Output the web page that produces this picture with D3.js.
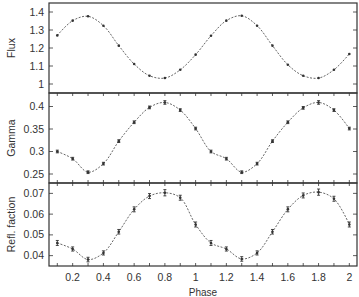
<!DOCTYPE html>
<html>
<head>
<meta charset="utf-8">
<script src="https://cdn.jsdelivr.net/npm/d3@7"></script>
<style>
  body { margin: 0; background: #fff; }
  text { font-family: "Liberation Sans", Arial, sans-serif; fill: #333; }
  .frame { fill: none; stroke: #333; stroke-width: 1.2; }
  .fit { fill: none; stroke: #555; stroke-width: 0.9; stroke-dasharray: 2,1.5; }
  .err { stroke: #333; stroke-width: 0.9; }
  .tick { stroke: #333; stroke-width: 0.8; }
</style>
</head>
<body>
<svg width="359" height="297"></svg>
<script>
const phase = [0.1, 0.2, 0.3, 0.4, 0.5, 0.6, 0.7, 0.8, 0.9, 1.0,
               1.1, 1.2, 1.3, 1.4, 1.5, 1.6, 1.7, 1.8, 1.9, 2.0]

const flux = [1.270, 1.352, 1.376, 1.324, 1.213, 1.111, 1.046, 1.033, 1.079, 1.163,
              1.268, 1.352, 1.379, 1.324, 1.213, 1.107, 1.046, 1.033, 1.079, 1.167]
const gamma = [0.300, 0.284, 0.254, 0.273, 0.323, 0.365, 0.398, 0.409, 0.392, 0.351,
               0.300, 0.284, 0.254, 0.273, 0.323, 0.365, 0.397, 0.409, 0.392, 0.351]
const gammaErr = [0.003, 0.003, 0.003, 0.003, 0.003, 0.003, 0.003, 0.004, 0.003, 0.003,
                  0.003, 0.003, 0.003, 0.003, 0.003, 0.003, 0.003, 0.004, 0.003, 0.003]
const refl = [0.0461, 0.0432, 0.0381, 0.0413, 0.0515, 0.0623, 0.0687, 0.0703, 0.0679, 0.0550,
              0.0461, 0.0432, 0.0384, 0.0413, 0.0515, 0.0623, 0.0690, 0.0706, 0.0674, 0.0550]
const reflErr = [0.0012, 0.0010, 0.0011, 0.0010, 0.0011, 0.0012, 0.0012, 0.0015, 0.0012, 0.0012,
                 0.0012, 0.0010, 0.0011, 0.0010, 0.0011, 0.0012, 0.0012, 0.0015, 0.0012, 0.0012]

const xTicks = [0.2, 0.4, 0.6, 0.8, 1, 1.2, 1.4, 1.6, 1.8, 2]
const xMinor = d3.range(1, 21).map(i => i / 10)

const svg = d3.select("svg")
const left = 49, right = 357

const x = d3.scaleLinear().domain([0.046, 2.05]).range([left, right])

const panels = [
  { label: "Flux", values: flux, errs: null, top: 3, bottom: 93,
    domain: [0.95, 1.45], ticks: [1, 1.1, 1.2, 1.3, 1.4], fmt: d => d3.format("")(d) },
  { label: "Gamma", values: gamma, errs: gammaErr, top: 93, bottom: 183,
    domain: [0.23, 0.43], ticks: [0.25, 0.3, 0.35, 0.4], fmt: d => d3.format("")(d) },
  { label: "Refl. faction", values: refl, errs: reflErr, top: 183, bottom: 266,
    domain: [0.035, 0.075], ticks: [0.04, 0.05, 0.06, 0.07], fmt: d => d3.format("")(d) }
]

panels.forEach((p, pi) => {
  const y = d3.scaleLinear().domain(p.domain).range([p.bottom, p.top])
  const g = svg.append("g")

  // y ticks (inside) and labels
  p.ticks.forEach(t => {
    g.append("line").attr("class", "tick")
      .attr("x1", left).attr("x2", left + 4)
      .attr("y1", y(t)).attr("y2", y(t))
    g.append("line").attr("class", "tick")
      .attr("x1", right).attr("x2", right - 4)
      .attr("y1", y(t)).attr("y2", y(t))
    g.append("text")
      .attr("x", left - 5).attr("y", y(t) + 3.5)
      .attr("text-anchor", "end")
      .attr("font-size", 10.5)
      .text(p.fmt(t))
  })

  // x ticks inside bottom/top of lower panels
  if (pi > 0) {
    xMinor.forEach(t => {
      g.append("line").attr("class", "tick")
        .attr("x1", x(t)).attr("x2", x(t))
        .attr("y1", p.bottom).attr("y2", p.bottom - 3)
      g.append("line").attr("class", "tick")
        .attr("x1", x(t)).attr("x2", x(t))
        .attr("y1", p.top).attr("y2", p.top + 3)
    })
  }

  // fitted curve
  const line = d3.line()
    .x((d, i) => x(phase[i]))
    .y(d => y(d))
    .curve(d3.curveCatmullRom.alpha(0.5))
  g.append("path").attr("class", "fit").attr("d", line(p.values))

  // error bars
  if (p.errs) {
    const eb = g.selectAll(".eb").data(p.values).enter().append("g")
    eb.append("line").attr("class", "err")
      .attr("x1", (d, i) => x(phase[i])).attr("x2", (d, i) => x(phase[i]))
      .attr("y1", (d, i) => y(d - p.errs[i])).attr("y2", (d, i) => y(d + p.errs[i]))
    eb.append("line").attr("class", "err")
      .attr("x1", (d, i) => x(phase[i]) - 1.5).attr("x2", (d, i) => x(phase[i]) + 1.5)
      .attr("y1", (d, i) => y(d - p.errs[i])).attr("y2", (d, i) => y(d - p.errs[i]))
    eb.append("line").attr("class", "err")
      .attr("x1", (d, i) => x(phase[i]) - 1.5).attr("x2", (d, i) => x(phase[i]) + 1.5)
      .attr("y1", (d, i) => y(d + p.errs[i])).attr("y2", (d, i) => y(d + p.errs[i]))
  }

  // points
  g.selectAll(".pt").data(p.values).enter().append("circle")
    .attr("cx", (d, i) => x(phase[i]))
    .attr("cy", d => y(d))
    .attr("r", 1.3)
    .attr("fill", "#333")

  // frame
  g.append("rect").attr("class", "frame")
    .attr("x", left).attr("y", p.top)
    .attr("width", right - left).attr("height", p.bottom - p.top)

  // y label
  g.append("text")
    .attr("transform", `translate(15, ${(p.top + p.bottom) / 2}) rotate(-90)`)
    .attr("text-anchor", "middle")
    .attr("font-size", 10.5)
    .text(p.label)
})

// x tick labels
xTicks.forEach(t => {
  svg.append("text")
    .attr("x", x(t)).attr("y", 281)
    .attr("text-anchor", "middle")
    .attr("font-size", 10.5)
    .text(d3.format("")(t))
})

svg.append("text")
  .attr("x", 203).attr("y", 296)
  .attr("text-anchor", "middle")
  .attr("font-size", 10)
  .text("Phase")
</script>
</body>
</html>
